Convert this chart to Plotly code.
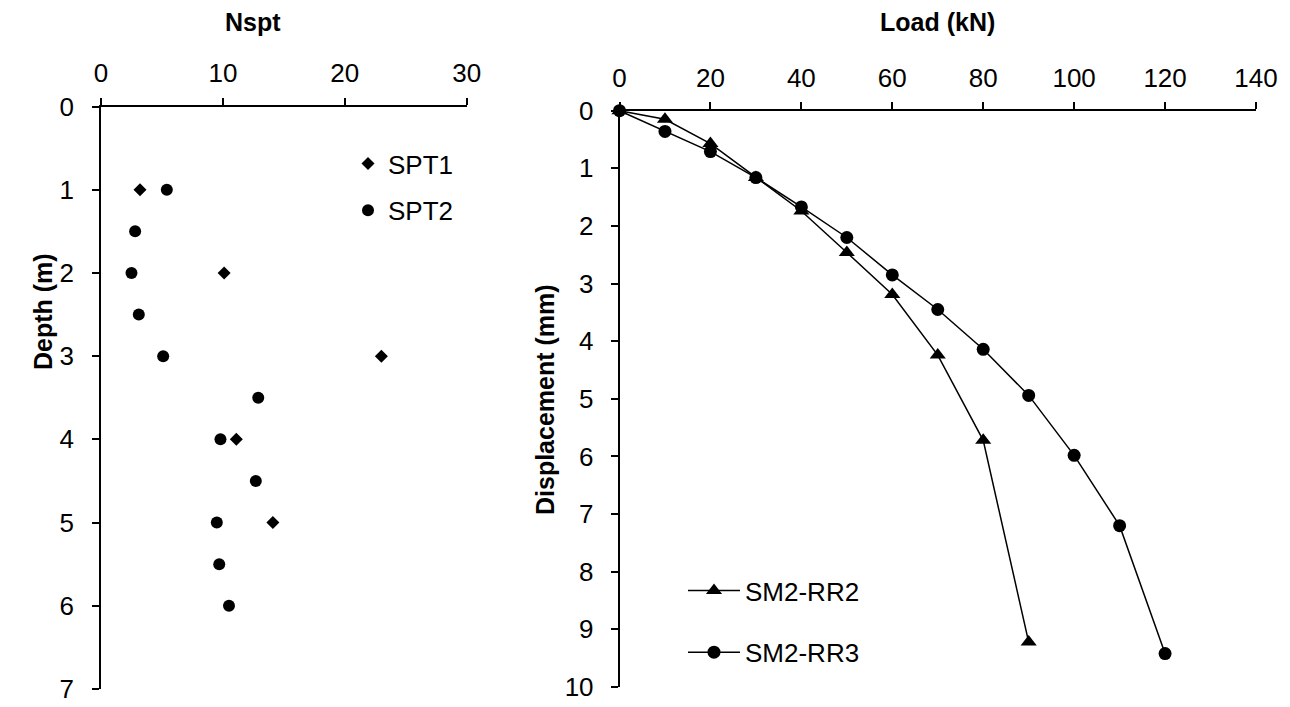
import plotly.graph_objects as go

# ---- data ----
spt1_depth = [1, 2, 3, 4, 5]
spt1_n = [3.2, 10.1, 23.0, 11.1, 14.1]

spt2_depth = [1, 1.5, 2, 2.5, 3, 3.5, 4, 4.5, 5, 5.5, 6]
spt2_n = [5.4, 2.8, 2.5, 3.1, 5.1, 12.9, 9.8, 12.7, 9.5, 9.7, 10.5]

rr2_load = [0, 10, 20, 30, 40, 50, 60, 70, 80, 90]
rr2_disp = [0, 0.15, 0.57, 1.16, 1.74, 2.46, 3.19, 4.24, 5.72, 9.22]

rr3_load = [0, 10, 20, 30, 40, 50, 60, 70, 80, 90, 100, 110, 120]
rr3_disp = [0, 0.36, 0.71, 1.16, 1.67, 2.2, 2.85, 3.45, 4.14, 4.94, 5.98, 7.2, 9.42]

FONT = "Liberation Sans, Arial, sans-serif"
W, H = 1290, 707
FS = 26

fig = go.Figure()

fig.add_trace(go.Scatter(x=spt1_n, y=spt1_depth, mode="markers", name="SPT1",
                         marker=dict(symbol="diamond", size=10, color="black"),
                         xaxis="x", yaxis="y", legend="legend", legendgroup="a",
                         cliponaxis=False))
fig.add_trace(go.Scatter(x=spt2_n, y=spt2_depth, mode="markers", name="SPT2",
                         marker=dict(symbol="circle", size=12, color="black"),
                         xaxis="x", yaxis="y", legend="legend", legendgroup="b",
                         cliponaxis=False))
fig.add_trace(go.Scatter(x=rr2_load, y=rr2_disp, mode="lines+markers", name="SM2-RR2",
                         marker=dict(symbol="triangle-up", size=14, color="black"),
                         line=dict(color="black", width=1.5),
                         xaxis="x2", yaxis="y2", legend="legend2", legendgroup="c",
                         cliponaxis=False))
fig.add_trace(go.Scatter(x=rr3_load, y=rr3_disp, mode="lines+markers", name="SM2-RR3",
                         marker=dict(symbol="circle", size=13, color="black"),
                         line=dict(color="black", width=1.5),
                         xaxis="x2", yaxis="y2", legend="legend2", legendgroup="d",
                         cliponaxis=False))

axis_common = dict(showline=True, linecolor="black", linewidth=1.5, ticks="outside",
                   ticklen=7, tickwidth=1.5, tickcolor="black", showgrid=False,
                   zeroline=False, automargin=False,
                   tickfont=dict(family=FONT, size=FS, color="black"))

title_font = dict(family=FONT, size=25, color="black")

fig.update_layout(
    width=W, height=H,
    margin=dict(l=0, r=0, t=0, b=0),
    paper_bgcolor="white", plot_bgcolor="white",
    xaxis=dict(domain=[101 / W, 466.7 / W], range=[0, 30], dtick=10, side="top",
               anchor="y", ticklabelstandoff=5, **axis_common),
    yaxis=dict(domain=[1 - 689 / H, 1 - 106.5 / H], range=[7, 0], dtick=1,
               anchor="x", ticklabelstandoff=13, **axis_common),
    xaxis2=dict(domain=[619.5 / W, 1256 / W], range=[0, 140], dtick=20, side="top",
                anchor="y2", ticklabelstandoff=5, **axis_common),
    yaxis2=dict(domain=[1 - 687 / H, 1 - 110.7 / H], range=[10, 0], dtick=1,
                anchor="x2", ticklabelstandoff=12, **axis_common),
    legend=dict(x=348 / W, y=1 - 140 / H, xanchor="left", yanchor="top",
                font=dict(family=FONT, size=FS, color="black"), bgcolor="rgba(0,0,0,0)",
                tracegroupgap=10, itemwidth=30),
    legend2=dict(x=683 / W, y=1 - 567 / H, xanchor="left", yanchor="top",
                 font=dict(family=FONT, size=FS, color="black"), bgcolor="rgba(0,0,0,0)",
                 tracegroupgap=25, itemwidth=52),
    annotations=[
        dict(text="<b>Nspt</b>", x=253 / W, y=1 - 22 / H, xref="paper", yref="paper",
             xanchor="center", yanchor="middle", showarrow=False, font=title_font),
        dict(text="<b>Load (kN)</b>", x=937 / W, y=1 - 22 / H, xref="paper", yref="paper",
             xanchor="center", yanchor="middle", showarrow=False, font=title_font),
        dict(text="<b>Depth (m)</b>", x=43 / W, y=1 - 312 / H, xref="paper", yref="paper",
             xanchor="center", yanchor="middle", showarrow=False, textangle=-90,
             font=title_font),
        dict(text="<b>Displacement (mm)</b>", x=545 / W, y=1 - 400 / H, xref="paper",
             yref="paper", xanchor="center", yanchor="middle", showarrow=False,
             textangle=-90, font=title_font),
    ],
)

fig.write_html("out.html")
